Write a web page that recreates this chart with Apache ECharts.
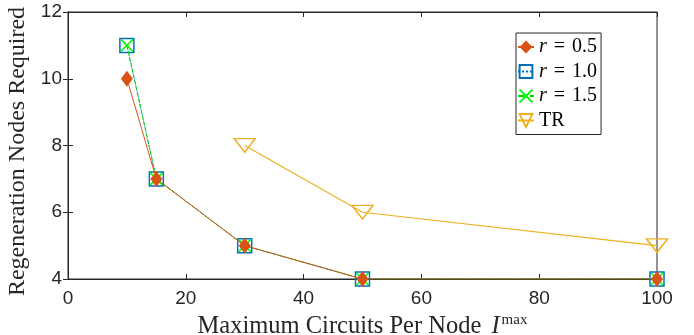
<!DOCTYPE html>
<html lang="en">
<head>
  <meta charset="UTF-8">
  <title>Regeneration Nodes</title>
  <style>
    body { margin: 0; background: #fff; }
    #chart { width: 694px; height: 335px; }
  </style>
  <script src="https://cdn.jsdelivr.net/npm/echarts@6/dist/echarts.min.js"></script>
</head>
<body>
<div id="chart"></div>
<script>
  var chart = echarts.init(document.getElementById('chart'));

  // data
  var xR = [10, 15, 30, 50, 100];
  var r05 = [10, 7, 5, 4, 4];
  var r10 = [11, 7, 5, 4, 4];
  var r15 = [11, 7, 5, 4, 4];
  var xTR = [30, 50, 100];
  var tr = [8, 6, 5];
  var names = ['r = 0.5', 'r = 1.0', 'r = 1.5', 'TR'];

  function pairs(xs, ys) {
    return xs.map(function (x, i) { return [x, ys[i]]; });
  }

  var serif = 'Liberation Serif';
  var sans = 'Liberation Sans';
  var axisColor = '#262626';
  var xMark = 'path://M0,0L10,10M10,0L0,10';
  var triDown = 'path://M0,0L20,0L10,16Z';

  var option = {
    animation: false,
    grid: {
      left: 68, right: 37, top: 12, bottom: 56,
      containLabel: false, outerBoundsMode: 'none',
      show: true, borderColor: axisColor, borderWidth: 1
    },
    legend: {
      orient: 'vertical',
      left: 516, top: 33,
      itemGap: 4.5,
      itemWidth: 16, itemHeight: 16,
      itemTextGap: 3,
      padding: [4, 4, 4, 1],
      borderColor: axisColor, borderWidth: 1,
      backgroundColor: '#fff',
      data: names,
      formatter: function (n) {
        if (n === 'TR') return '{n|TR}';
        return '{i|r}{e|=}{n|' + n.slice(4) + '}';
      },
      textStyle: {
        fontFamily: serif, fontSize: 20, color: '#000', lineHeight: 20,
        rich: {
          i: { fontFamily: serif, fontStyle: 'italic', fontSize: 20, lineHeight: 20, color: '#000' },
          e: { fontFamily: serif, fontSize: 20, lineHeight: 20, padding: [0, 7], color: '#000' },
          n: { fontFamily: serif, fontSize: 20, lineHeight: 20, color: '#000' }
        }
      }
    },
    xAxis: [{
      type: 'value', min: 0, max: 100, interval: 20,
      name: '{n|Maximum Circuits Per Node }{i|I}{s|max}',
      nameLocation: 'middle', nameGap: 30,
      nameTextStyle: {
        rich: {
          n: { fontFamily: serif, fontSize: 24.5, color: axisColor },
          i: { fontFamily: serif, fontSize: 24.5, fontStyle: 'italic', color: axisColor, padding: [0, 0, 0, 4] },
          s: { fontFamily: serif, fontSize: 15, color: axisColor, verticalAlign: 'top', padding: [0, 0, 12, 2] }
        }
      },
      axisLine: { lineStyle: { color: axisColor } },
      axisTick: { inside: true, length: 5, lineStyle: { color: axisColor } },
      axisLabel: { fontFamily: sans, fontSize: 19, color: axisColor, margin: 10 },
      splitLine: { show: false }
    }, {
      type: 'value', position: 'top', min: 0, max: 100, interval: 20,
      axisLine: { show: true, lineStyle: { color: axisColor } },
      axisTick: { inside: true, length: 5, lineStyle: { color: axisColor } },
      axisLabel: { show: false }, splitLine: { show: false }
    }],
    yAxis: [{
      type: 'value', min: 4, max: 12, interval: 2,
      name: 'Regeneration Nodes Required',
      nameLocation: 'middle', nameGap: 30,
      nameTextStyle: { fontFamily: serif, fontSize: 24, color: axisColor, padding: [0, 12, 0, 0] },
      axisLine: { show: true, lineStyle: { color: axisColor } },
      axisTick: { show: true, inside: true, length: 5, lineStyle: { color: axisColor } },
      axisLabel: { fontFamily: sans, fontSize: 19, color: axisColor, margin: 6 },
      splitLine: { show: false }
    }, {
      type: 'value', position: 'right', min: 4, max: 12, interval: 2,
      axisLine: { show: true, lineStyle: { color: axisColor } },
      axisTick: { show: true, inside: true, length: 5, lineStyle: { color: axisColor } },
      axisLabel: { show: false }, splitLine: { show: false }
    }],
    series: [{
      name: 'r = 0.5', type: 'line', z: 5,
      data: pairs(xR, r05),
      symbol: 'diamond', symbolSize: [12, 16],
      itemStyle: { color: '#D95319' },
      lineStyle: { color: '#D95319', width: 1 }
    }, {
      name: 'r = 1.0', type: 'line', z: 3,
      data: pairs(xR, r10),
      symbol: 'rect', symbolSize: 14,
      itemStyle: { color: 'rgba(255,255,255,0)', borderColor: '#0072BD', borderWidth: 1.5 },
      lineStyle: { color: '#0072BD', width: 1, type: 'dotted' }
    }, {
      name: 'r = 1.5', type: 'line', z: 4,
      data: pairs(xR, r15),
      symbol: xMark, symbolSize: 12,
      itemStyle: { color: 'rgba(255,255,255,0)', borderColor: '#00FF00', borderWidth: 1.5 },
      lineStyle: { color: '#00DD00', width: 1, type: 'dashed' }
    }, {
      name: 'TR', type: 'line', z: 2,
      data: pairs(xTR, tr),
      symbol: triDown, symbolSize: [21, 17], symbolKeepAspect: true,
      itemStyle: { color: 'rgba(255,255,255,0)', borderColor: '#EDB120', borderWidth: 1.5 },
      lineStyle: { color: '#EDB120', width: 1.2 }
    }]
  };

  chart.setOption(option);
</script>
</body>
</html>
